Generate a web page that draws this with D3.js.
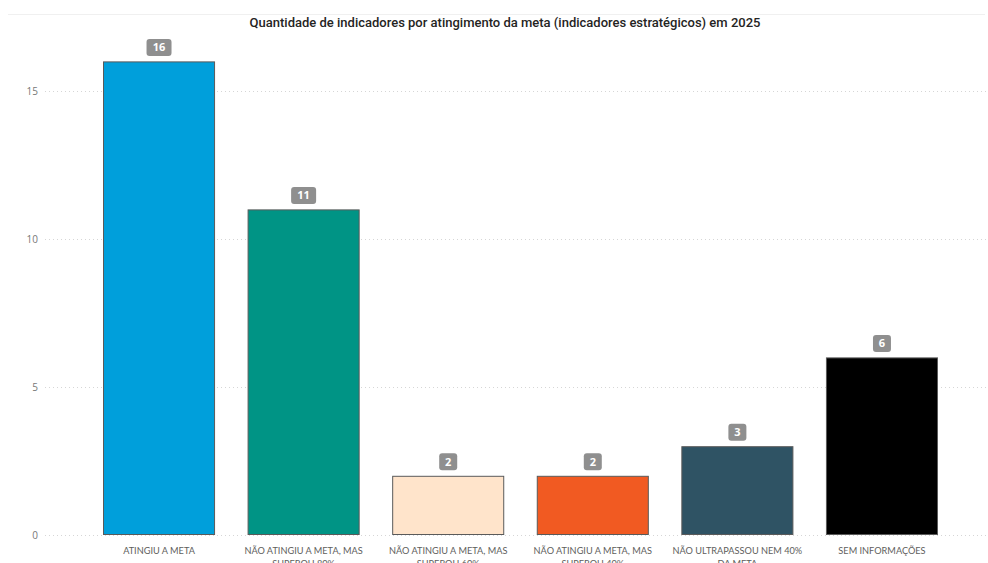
<!DOCTYPE html>
<html><head><meta charset="utf-8">
<script src="https://cdn.jsdelivr.net/npm/d3@7"></script>
<style>body{margin:0;background:#fff;overflow:hidden}svg{display:block}</style>
</head><body><svg id="c" width="988" height="563"></svg>
<script>
const categories = ["ATINGIU A META","NÃO ATINGIU A META, MAS SUPEROU 80%","NÃO ATINGIU A META, MAS SUPEROU 60%","NÃO ATINGIU A META, MAS SUPEROU 40%","NÃO ULTRAPASSOU NEM 40% DA META","SEM INFORMAÇÕES"];
const values = [16, 11, 2, 2, 3, 6];
const colors = ["#009FDB","#009485","#FFE4CB","#F15A22","#2F5364","#000000"];
const yTicks = [0, 5, 10, 15];
const title = "Quantidade de indicadores por atingimento da meta (indicadores estratégicos) em 2025";

const svg = d3.select("#c");
const x = d3.scaleBand().domain(categories).range([103, 938]).paddingInner(0.225).paddingOuter(0);
const y = d3.scaleLinear().domain([0, 15]).range([535, 91]);

svg.append("line").attr("x1",8).attr("x2",985).attr("y1",14.5).attr("y2",14.5).attr("stroke","#f0f0f0");
svg.append("text").attr("x",505).attr("y",27).attr("text-anchor","middle")
  .attr("font-family","Roboto, sans-serif").attr("font-weight","500").attr("font-size","13px").attr("fill","#252423").text(title);

// grid
svg.append("g").selectAll("line").data(yTicks).join("line")
  .attr("x1",45).attr("x2",986).attr("y1",d=>Math.round(y(d))+0.5).attr("y2",d=>Math.round(y(d))+0.5)
  .attr("stroke","#d6d6d6").attr("stroke-dasharray","1,3");
const ya = svg.append("g").attr("transform","translate(38,0)")
  .call(d3.axisLeft(y).tickValues(yTicks).tickSize(0).tickPadding(0));
ya.select(".domain").remove();
ya.selectAll("text").attr("font-family","'Open Sans', sans-serif").attr("font-size","10px").attr("fill","#777");

// bars
svg.selectAll("rect.bar").data(values).join("rect").attr("class","bar")
  .attr("x",(d,i)=>x(categories[i])+0.5).attr("y",d=>y(d)+0.5)
  .attr("width",x.bandwidth()-1).attr("height",d=>y(0)-y(d)-1)
  .attr("fill",(d,i)=>colors[i]).attr("stroke","#5a5a5a").attr("stroke-width",1);

// data labels
const lab = svg.selectAll("g.lab").data(values).join("g").attr("class","lab")
  .attr("transform",(d,i)=>`translate(${x(categories[i])+x.bandwidth()/2},${y(d)-14})`);
lab.append("rect").attr("x",d=>String(d).length>1?-12.5:-9).attr("y",-8.5)
  .attr("width",d=>String(d).length>1?25:18).attr("height",17).attr("rx",3).attr("fill","#8f8f8f");
lab.append("text").attr("text-anchor","middle").attr("dy","0.36em")
  .attr("font-family","'Open Sans', sans-serif").attr("font-weight","700").attr("font-size","11px").attr("fill","#fff").text(d=>d);

// x labels with wrap
const FONT = "Lato, 'Open Sans', sans-serif";
const FS = "9.2px";
const xa = svg.append("g");
categories.forEach((c,i)=>{
  const cx = x(c)+x.bandwidth()/2;
  const words = c.split(" ");
  const lines = []; let cur = "";
  const tmp = svg.append("text").attr("font-family",FONT).attr("font-size",FS);
  words.forEach(w=>{
    const test = cur ? cur+" "+w : w;
    tmp.text(test);
    if (tmp.node().getComputedTextLength() > 130 && cur) { lines.push(cur); cur = w; } else cur = test;
  });
  lines.push(cur); tmp.remove();
  const t = xa.append("text").attr("x",cx).attr("y",554).attr("text-anchor","middle")
    .attr("font-family",FONT).attr("font-size",FS).attr("fill","#605E5C");
  lines.forEach((l,j)=>t.append("tspan").attr("x",cx).attr("dy",j?13:0).text(l));
});
</script></body></html>
